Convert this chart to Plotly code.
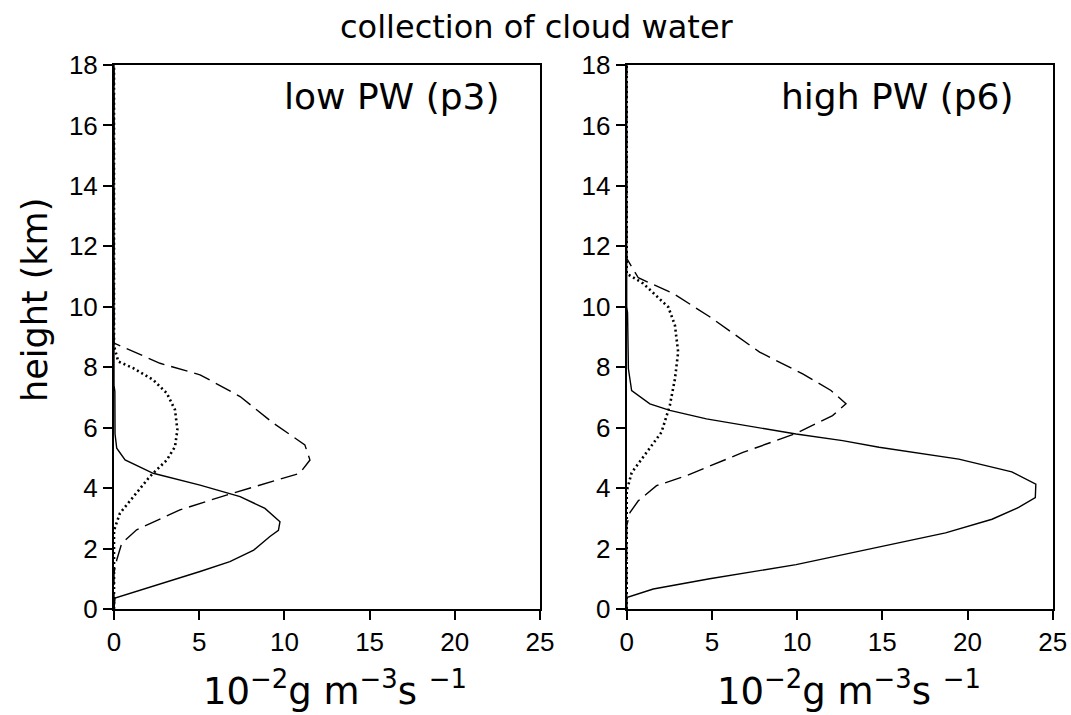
import plotly.graph_objects as go

# ---- data (x in 10^-2 g m^-3 s^-1, h in km) ----
# low PW (p3)
p3_solid_x = [0, 0.06, 5.05, 6.8, 8.2, 9.15, 9.65, 9.74, 8.86, 7.4, 5.05, 2.3, 0.65, 0.16, 0.06, 0.05, 0, 0]
p3_solid_h = [0, 0.36, 1.24, 1.57, 1.95, 2.4, 2.6, 2.89, 3.33, 3.72, 4.1, 4.49, 4.93, 5.32, 5.8, 7.2, 7.4, 18]
p3_dash_x = [0, 0, 0.16, 0.45, 1.33, 3.87, 6.6, 8.96, 10.9, 11.5, 11.2, 9.35, 7.4, 5.05, 2.7, 0, 0]
p3_dash_h = [0, 1.2, 1.62, 2.17, 2.62, 3.28, 3.77, 4.16, 4.49, 4.93, 5.43, 6.15, 7.03, 7.75, 8.13, 8.8, 18]
p3_dot_x = [0, 0, 0.35, 1.13, 2.1, 3.1, 3.58, 3.72, 3.58, 3.1, 2.3, 1.13, 0.25, 0, 0]
p3_dot_h = [0, 2.6, 3.17, 3.72, 4.38, 4.93, 5.37, 5.93, 6.59, 7.14, 7.58, 7.97, 8.19, 8.7, 18]

# high PW (p6)
p6_solid_x = [0, 0, 1.56, 4.87, 9.94, 14.6, 18.71, 21.44, 23.0, 23.98, 24.01, 22.6, 19.49, 14.81,
              12.67, 9.94, 4.68, 2.53, 1.36, 0.29, 0.1, 0.05, 0, 0]
p6_solid_h = [0, 0.38, 0.66, 1.0, 1.47, 2.03, 2.52, 2.97, 3.36, 3.69, 4.13, 4.54, 4.96, 5.35,
              5.57, 5.79, 6.29, 6.57, 6.79, 7.23, 7.95, 9.8, 10.0, 18]
p6_dash_x = [0, 0, 0.19, 0.68, 1.75, 3.49, 6.82, 9.94, 12.08, 12.87, 11.99, 10.33, 7.8, 4.87, 2.73, 0.68, 0, 0]
p6_dash_h = [0, 2.75, 3.19, 3.58, 4.08, 4.41, 5.18, 5.81, 6.4, 6.79, 7.23, 7.78, 8.5, 9.67, 10.44, 10.96, 11.6, 18]
p6_dot_x = [0, 0, 0.29, 1.17, 2.04, 2.53, 2.83, 3.02, 2.83, 2.44, 0.97, 0, 0]
p6_dot_h = [0, 3.9, 4.51, 5.18, 5.85, 6.73, 7.61, 8.5, 9.39, 9.99, 10.77, 11.1, 18]

x_ticks = [0, 5, 10, 15, 20, 25]
y_ticks = [0, 2, 4, 6, 8, 10, 12, 14, 16, 18]
panel_labels = ["low PW (p3)", "high PW (p6)"]
title_text = "collection of cloud water"
x_title = "10<sup>−2</sup>g m<sup>−3</sup>s <sup>−1</sup>"
y_title = "height (km)"

TICK_FONT = "Liberation Sans, Arial, sans-serif"
TEXT_FONT = "DejaVu Sans, Verdana, sans-serif"

fig = go.Figure()

def add_panel(xa, ya, sx, sh, dx, dh, ox, oh):
    fig.add_trace(go.Scatter(x=sx, y=sh, mode="lines", xaxis=xa, yaxis=ya,
                             line=dict(color="black", width=1.4), showlegend=False))
    fig.add_trace(go.Scatter(x=dx, y=dh, mode="lines", xaxis=xa, yaxis=ya,
                             line=dict(color="black", width=1.4, dash="17px,7px"), showlegend=False))
    fig.add_trace(go.Scatter(x=ox, y=oh, mode="lines", xaxis=xa, yaxis=ya,
                             line=dict(color="black", width=2.6, dash="2px,3px"), showlegend=False))

add_panel("x", "y", p3_solid_x, p3_solid_h, p3_dash_x, p3_dash_h, p3_dot_x, p3_dot_h)
add_panel("x2", "y2", p6_solid_x, p6_solid_h, p6_dash_x, p6_dash_h, p6_dot_x, p6_dot_h)

W, H = 1071, 715
y_dom = [(H - 609) / H, (H - 65) / H]

axis_common = dict(showgrid=False, zeroline=False, showline=True, linecolor="black", linewidth=2,
                   mirror=True, ticks="outside", ticklen=9, tickwidth=2, tickcolor="black",
                   automargin=False,
                   tickfont=dict(family=TICK_FONT, size=26, color="black"))

fig.update_layout(
    template="none",
    width=W, height=H,
    margin=dict(l=0, r=0, t=0, b=0, pad=0),
    paper_bgcolor="white", plot_bgcolor="white",
    showlegend=False,
    xaxis=dict(domain=[114 / W, 540 / W], range=[0, 25], tickvals=x_ticks, anchor="y", **axis_common),
    yaxis=dict(domain=y_dom, range=[0, 18], tickvals=y_ticks, anchor="x", **axis_common),
    xaxis2=dict(domain=[626.7 / W, 1052.7 / W], range=[0, 25], tickvals=x_ticks, anchor="y2", **axis_common),
    yaxis2=dict(domain=y_dom, range=[0, 18], tickvals=y_ticks, anchor="x2", **axis_common),
)

ann = []
ann.append(dict(text=title_text, x=537 / W, y=(H - 27) / H, xref="paper", yref="paper",
                showarrow=False, xanchor="center", yanchor="middle",
                font=dict(family=TEXT_FONT, size=32, color="black")))
ann.append(dict(text=panel_labels[0], x=(392 - 114) / 17.04, y=(609 - 97) / 30.22, xref="x", yref="y",
                showarrow=False, xanchor="center", yanchor="middle",
                font=dict(family=TEXT_FONT, size=36, color="black")))
ann.append(dict(text=panel_labels[1], x=(897.5 - 626.7) / 17.04, y=(609 - 97) / 30.22, xref="x2", yref="y2",
                showarrow=False, xanchor="center", yanchor="middle",
                font=dict(family=TEXT_FONT, size=36, color="black")))
ann.append(dict(text=y_title, x=35 / W, y=(H - 300) / H, xref="paper", yref="paper",
                showarrow=False, textangle=-90, xanchor="center", yanchor="middle",
                font=dict(family=TEXT_FONT, size=35, color="black")))
for cx in [335, 848.5]:
    ann.append(dict(text=x_title, x=cx / W, y=(H - 688) / H, xref="paper", yref="paper",
                    showarrow=False, xanchor="center", yanchor="middle",
                    font=dict(family=TEXT_FONT, size=37, color="black")))
fig.update_layout(annotations=ann)

fig.write_html("out.html")
